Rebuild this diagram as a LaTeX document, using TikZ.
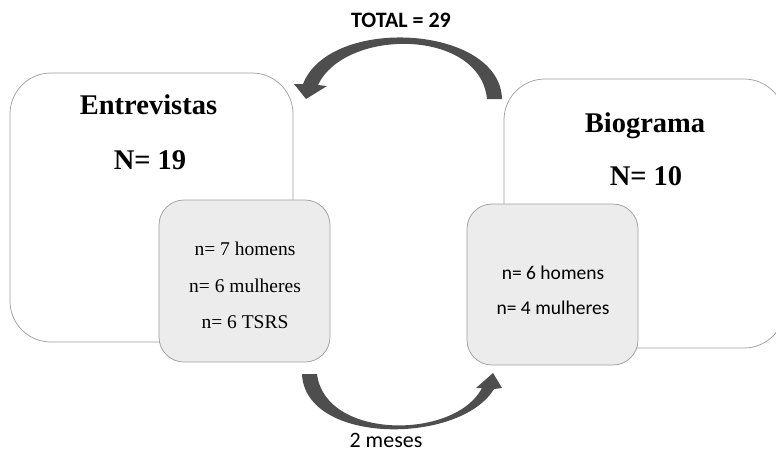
\documentclass[tikz,border=0pt]{standalone}
\usepackage{fontspec}
\setmainfont{Liberation Serif}
\newfontfamily\calibri{Carlito}
\definecolor{boxline}{RGB}{160,160,160}
\definecolor{subfill}{RGB}{236,236,236}
\definecolor{arrowgray}{RGB}{78,78,78}
\tikzset{every picture/.style={line width=0.75pt}}
\tikzset{
  bigbox/.style={draw=boxline, fill=white, rounded corners=41pt, inner sep=0pt},
  subbox/.style={draw=boxline, fill=subfill, rounded corners=25pt, inner sep=0pt, minimum width=171pt},
  headtext/.style={font=\fontsize{28.5}{33}\selectfont\bfseries, inner sep=0.75pt},
  infoserif/.style={font=\fontsize{19.5}{22}\selectfont, inner sep=0.75pt},
  infosans/.style={font=\calibri\fontsize{19.5}{22}\selectfont, inner sep=0.75pt},
  arrowlabel/.style={font=\calibri\fontsize{22}{25}\selectfont, inner sep=0.75pt}
}

\begin{document}
\begin{tikzpicture}[x=1pt,y=1pt,yscale=-1,xscale=1]
\useasboundingbox (0,0) rectangle (776,453);

%Shape: Rounded Rect [id:entrevistas]
\node [bigbox, minimum width=283pt, minimum height=269pt] (entrevistasbox) at (151.5,207.5) {};
%Shape: Rounded Rect [id:biograma]
\node [bigbox, minimum width=281pt, minimum height=269pt] (biogramabox) at (644.5,213.5) {};
%Shape: Rounded Rect [id:entrevistasinfo]
\node [subbox, minimum height=162pt] (entrevistasinfo) at (244.5,281) {};
%Shape: Rounded Rect [id:biogramainfo]
\node [subbox, minimum height=161pt] (biogramainfo) at (552.5,284.5) {};

%Curved Arrow [id:totalarrow]
\fill [arrowgray] (502,99) .. controls (500,25) and (330,15) .. (303,84) -- (294,84) -- (306,99) -- (327,86) -- (318,85) .. controls (345,28) and (480,28) .. (487,99) -- cycle ;
%Curved Arrow [id:mesesarrow]
\fill [arrowgray] (302,374) .. controls (305,445) and (460,445) .. (494,389) -- (502,388) -- (493,373) -- (476,388) -- (482,388) .. controls (455,440) and (325,440) .. (317,374) -- cycle ;

% Text Node
\node [headtext] (entrevistastitle) at (148.5,105) {Entrevistas};
% Text Node
\node [headtext] (entrevistasn) at (150,160) {N= 19};
% Text Node
\node [headtext] (biogramatitle) at (645,126) {Biograma};
% Text Node
\node [headtext] (biograman) at (646,176) {N= 10};

% Text Node
\node [infoserif] (homensE) at (245,249) {n= 7 homens};
% Text Node
\node [infoserif] (mulheresE) at (245,286) {n= 6 mulheres};
% Text Node
\node [infoserif] (tsrsE) at (245,322) {n= 6 TSRS};
% Text Node
\node [infosans] (homensB) at (553,273) {n= 6 homens};
% Text Node
\node [infosans] (mulheresB) at (553,308) {n= 4 mulheres};

% Text Node
\node [arrowlabel, font=\calibri\bfseries\fontsize{22}{25}\selectfont] (total) at (401,20) {TOTAL = 29};
% Text Node
\node [arrowlabel] (meses) at (386,440) {2 meses};

\end{tikzpicture}
\end{document}
